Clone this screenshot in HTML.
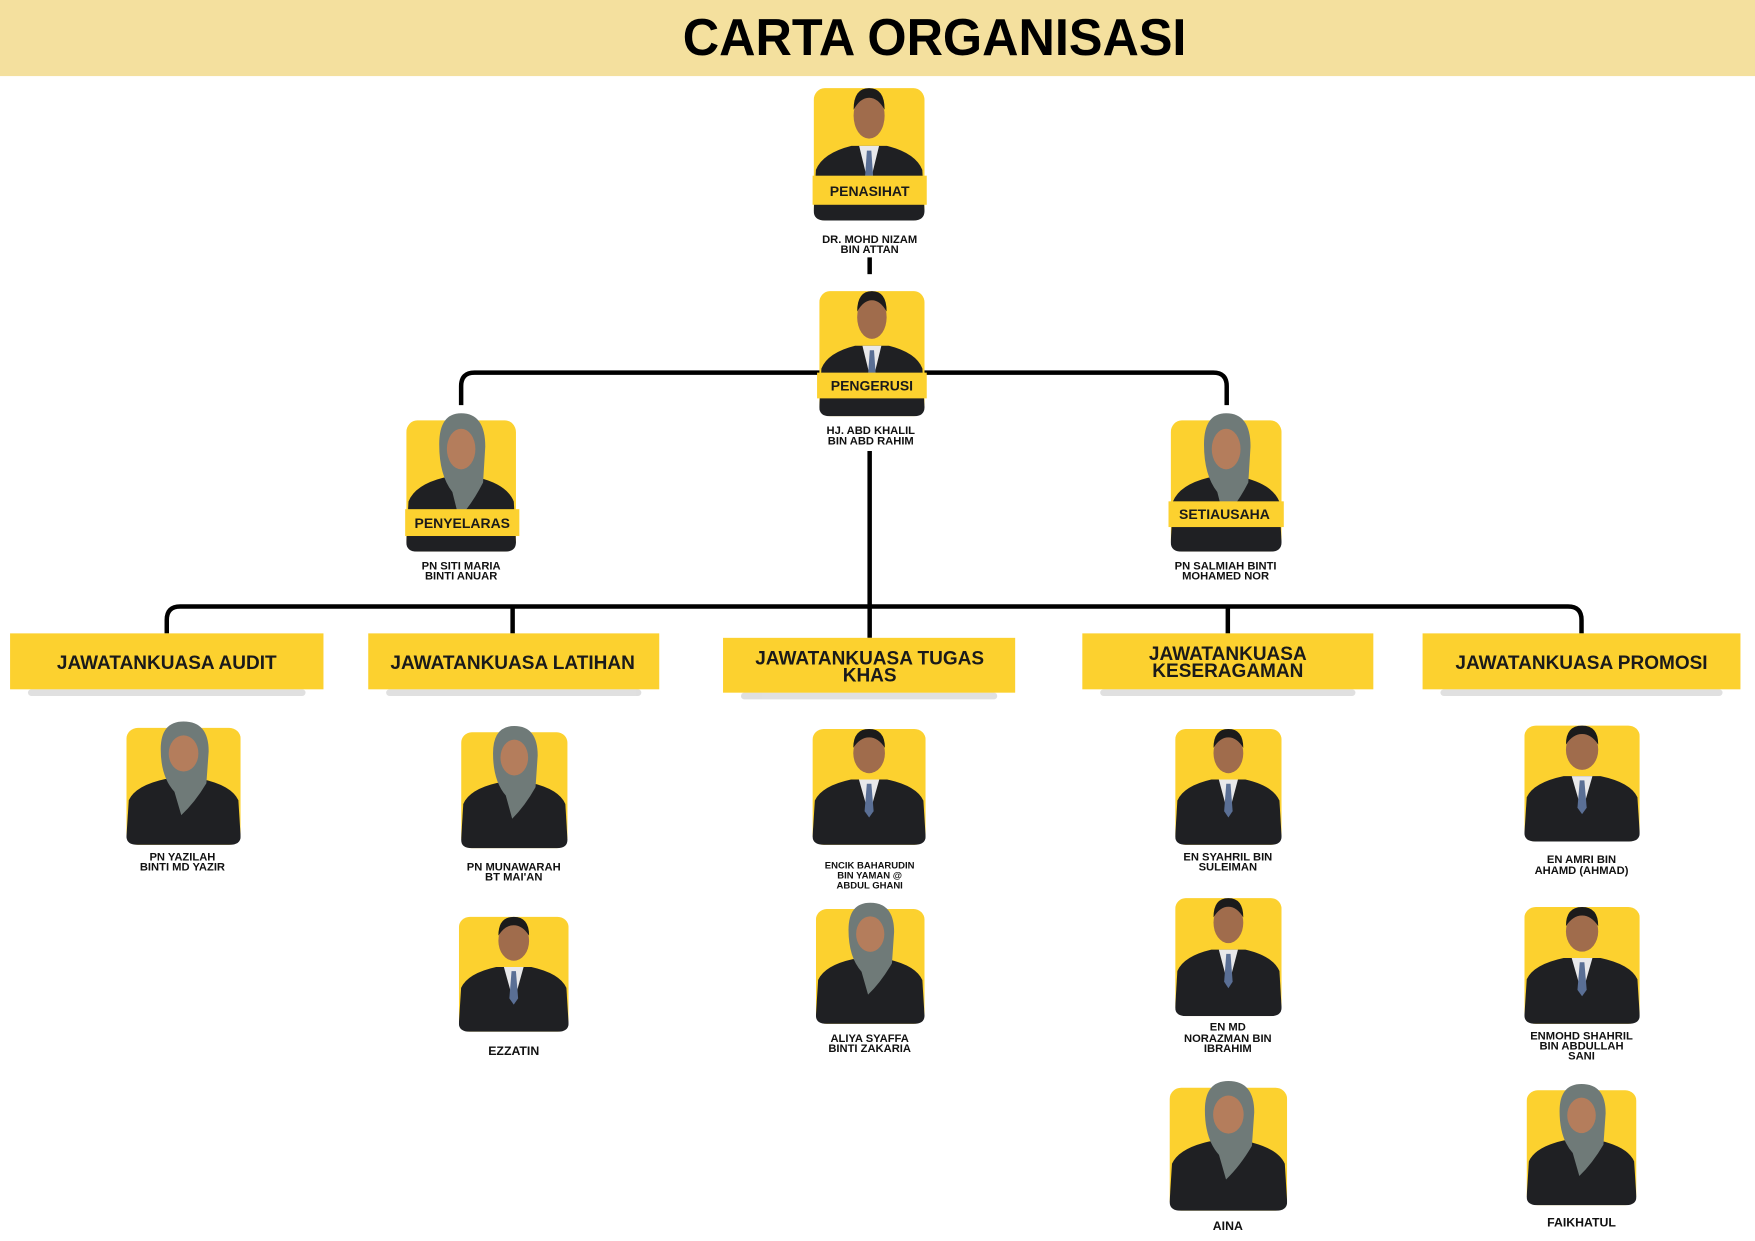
<!DOCTYPE html>
<html><head><meta charset="utf-8"><style>
html,body{margin:0;padding:0;background:#fff;}
svg{display:block;}
.nm{font-family:"Liberation Sans",sans-serif;font-weight:bold;font-size:10px;fill:#111;text-anchor:middle;}
.cm{font-family:"Liberation Sans",sans-serif;font-weight:bold;font-size:17px;fill:#1a1a1a;text-anchor:middle;}
.lb{font-family:"Liberation Sans",sans-serif;font-weight:bold;font-size:12.5px;fill:#1a1a1a;text-anchor:middle;}
</style></head><body>
<svg width="1755" height="1241" viewBox="0 0 1568 1109" preserveAspectRatio="none" xmlns="http://www.w3.org/2000/svg">
<defs>
<symbol id="man" viewBox="0 0 100 120" preserveAspectRatio="none">
<rect x="0" y="10" width="100" height="110" rx="10" fill="#fcd12f"/>
<path d="M0 112 L2 78 Q8 64 34 58 L66 58 Q92 64 98 78 L100 112 Q100 120 90 120 L10 120 Q0 120 0 112Z" fill="#1f2023"/>
<path d="M41 58 L50 92 L59 58Z" fill="#e8e8ea"/>
<path d="M48 62 L52 62 L54 88 L50 94 L46 88Z" fill="#5a6f95"/>
<ellipse cx="50" cy="33" rx="14" ry="19" fill="#a06c4c"/>
<path d="M36 28 Q36 10 50 10 Q64 10 64 28 Q58 18 50 18 Q42 18 36 28Z" fill="#1b1b1b"/>
</symbol>
<symbol id="wom" viewBox="0 0 100 120" preserveAspectRatio="none">
<rect x="0" y="10" width="100" height="110" rx="10" fill="#fcd12f"/>
<path d="M0 112 L2 78 Q8 64 34 58 L66 58 Q92 64 98 78 L100 112 Q100 120 90 120 L10 120 Q0 120 0 112Z" fill="#1f2023"/>
<path d="M30 30 Q30 4 50 4 Q72 4 72 32 L70 62 Q60 80 48 92 L42 70 Q30 56 30 30Z" fill="#6f7a78"/>
<ellipse cx="50" cy="34" rx="13" ry="17" fill="#b47d5c"/>
</symbol>
</defs>

<rect x="0" y="0" width="1568" height="68" fill="#f4e09e"/>
<text x="835" y="49" textLength="450" lengthAdjust="spacingAndGlyphs" style="font-family:'Liberation Sans',sans-serif;font-weight:bold;font-size:46px;fill:#000" text-anchor="middle">CARTA ORGANISASI</text>

<g fill="none" stroke="#000" stroke-width="4">
<line x1="777" y1="230" x2="777" y2="245"/>
<path d="M412 362 L412 345 Q412 333 424 333 L1084 333 Q1096 333 1096 345 L1096 362"/>
<line x1="777" y1="403" x2="777" y2="542"/>
<path d="M149 566 L149 554 Q149 542 161 542 L1401 542 Q1413 542 1413 554 L1413 566"/>
<line x1="458" y1="542" x2="458" y2="566"/>
<line x1="777" y1="542" x2="777" y2="570"/>
<line x1="1097" y1="542" x2="1097" y2="566"/>
</g>

<use href="#man" x="727" y="68" width="99" height="129"/>
<rect x="726" y="157" width="102" height="26" fill="#fcd12f"/>
<text class="lb" x="777" y="175">PENASIHAT</text>
<text class="nm" x="777" y="217">DR. MOHD NIZAM</text>
<text class="nm" x="777" y="226">BIN ATTAN</text>

<use href="#man" x="732" y="250" width="94" height="122"/>
<rect x="730" y="333" width="98" height="23" fill="#fcd12f"/>
<text class="lb" x="779" y="349">PENGERUSI</text>
<text class="nm" x="778" y="388">HJ. ABD KHALIL</text>
<text class="nm" x="778" y="397">BIN ABD RAHIM</text>

<use href="#wom" x="363" y="365" width="98" height="128"/>
<rect x="362" y="455" width="102" height="24" fill="#fcd12f"/>
<text class="lb" x="413" y="472">PENYELARAS</text>
<text class="nm" x="412" y="509">PN SITI MARIA</text>
<text class="nm" x="412" y="518">BINTI ANUAR</text>

<use href="#wom" x="1046" y="365" width="99" height="128"/>
<rect x="1044" y="448" width="103" height="23" fill="#fcd12f"/>
<text class="lb" x="1094" y="464">SETIAUSAHA</text>
<text class="nm" x="1095" y="509">PN SALMIAH BINTI</text>
<text class="nm" x="1095" y="518">MOHAMED NOR</text>

<g fill="#d8d8d8" opacity="0.8">
<rect x="25" y="616" width="248" height="6" rx="3"/>
<rect x="345" y="616" width="228" height="6" rx="3"/>
<rect x="662" y="619" width="229" height="6" rx="3"/>
<rect x="983" y="616" width="228" height="6" rx="3"/>
<rect x="1287" y="616" width="252" height="6" rx="3"/>
</g>
<g fill="#fcd12f">
<rect x="9" y="566" width="280" height="50"/>
<rect x="329" y="566" width="260" height="50"/>
<rect x="646" y="570" width="261" height="49"/>
<rect x="967" y="566" width="260" height="50"/>
<rect x="1271" y="566" width="284" height="50"/>
</g>
<text class="cm" x="149" y="598">JAWATANKUASA AUDIT</text>
<text class="cm" x="458" y="598">JAWATANKUASA LATIHAN</text>
<text class="cm" x="777" y="594">JAWATANKUASA TUGAS</text>
<text class="cm" x="777" y="609">KHAS</text>
<text class="cm" x="1097" y="590">JAWATANKUASA</text>
<text class="cm" x="1097" y="605">KESERAGAMAN</text>
<text class="cm" x="1413" y="598">JAWATANKUASA PROMOSI</text>

<use href="#wom" x="113" y="641" width="102" height="114"/>
<text class="nm" x="163" y="769">PN YAZILAH</text>
<text class="nm" x="163" y="778">BINTI MD YAZIR</text>

<use href="#wom" x="412" y="645" width="95" height="113"/>
<text class="nm" x="459" y="778">PN MUNAWARAH</text>
<text class="nm" x="459" y="787">BT MAI'AN</text>

<use href="#man" x="410" y="810" width="98" height="112"/>
<text class="nm" x="459" y="943" style="font-size:11px">EZZATIN</text>

<use href="#man" x="726" y="642" width="101" height="113"/>
<text class="nm" x="777" y="776" style="font-size:8.5px">ENCIK BAHARUDIN</text>
<text class="nm" x="777" y="785" style="font-size:8.5px">BIN YAMAN @</text>
<text class="nm" x="777" y="794" style="font-size:8.5px">ABDUL GHANI</text>

<use href="#wom" x="729" y="803" width="97" height="112"/>
<text class="nm" x="777" y="931">ALIYA SYAFFA</text>
<text class="nm" x="777" y="940">BINTI ZAKARIA</text>

<use href="#man" x="1050" y="642" width="95" height="113"/>
<text class="nm" x="1097" y="769">EN SYAHRIL BIN</text>
<text class="nm" x="1097" y="778">SULEIMAN</text>

<use href="#man" x="1050" y="793" width="95" height="115"/>
<text class="nm" x="1097" y="921">EN MD</text>
<text class="nm" x="1097" y="931">NORAZMAN BIN</text>
<text class="nm" x="1097" y="940">IBRAHIM</text>

<use href="#wom" x="1045" y="962" width="105" height="120"/>
<text class="nm" x="1097" y="1099" style="font-size:11px">AINA</text>

<use href="#man" x="1362" y="639" width="103" height="113"/>
<text class="nm" x="1413" y="771">EN AMRI BIN</text>
<text class="nm" x="1413" y="781">AHAMD (AHMAD)</text>

<use href="#man" x="1362" y="801" width="103" height="114"/>
<text class="nm" x="1413" y="929">ENMOHD SHAHRIL</text>
<text class="nm" x="1413" y="938">BIN ABDULLAH</text>
<text class="nm" x="1413" y="947">SANI</text>

<use href="#wom" x="1364" y="965" width="98" height="112"/>
<text class="nm" x="1413" y="1096" style="font-size:11px">FAIKHATUL</text>
</svg>
</body></html>
